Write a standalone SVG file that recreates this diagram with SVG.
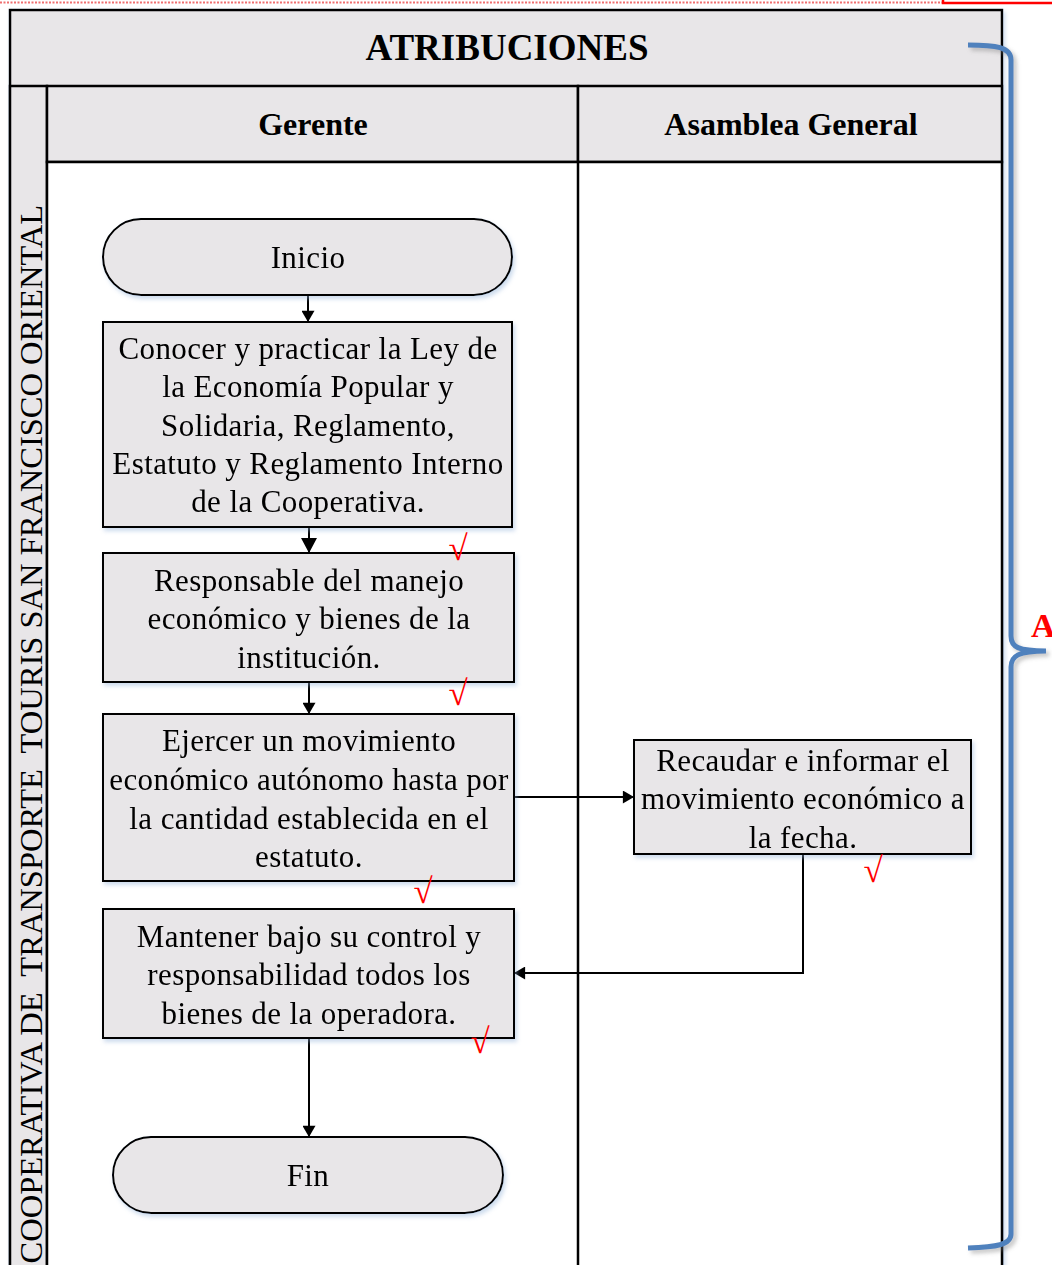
<svg xmlns="http://www.w3.org/2000/svg" width="1052" height="1265" viewBox="0 0 1052 1265">
  <style>
    .lane { fill: #e8e6e8; stroke: #000; stroke-width: 2.5; }
    .box { fill: #e8e6e8; stroke: #000; stroke-width: 2; }
    .t { font-family: "Liberation Serif", "Times New Roman", serif; font-size: 31px; letter-spacing: 0.4px; fill: #000; text-anchor: middle; }
    .h { font-family: "Liberation Serif", "Times New Roman", serif; font-weight: bold; fill: #000; text-anchor: middle; }
    .chk { font-family: "Liberation Serif", "DejaVu Serif", serif; font-size: 35px; fill: #ff0000; text-anchor: middle; }
    .conn { fill: none; stroke: #000; stroke-width: 2; }
  </style>
  <defs>
    <filter id="soft" x="-10%" y="-10%" width="125%" height="130%">
      <feDropShadow dx="2" dy="3" stdDeviation="2" flood-color="#8fb0d8" flood-opacity="0.45"/>
    </filter>
    <filter id="braceShadow" x="-20%" y="-5%" width="150%" height="110%">
      <feDropShadow dx="3" dy="3" stdDeviation="2" flood-color="#7a7a7a" flood-opacity="0.45"/>
    </filter>
    <marker id="arrow" viewBox="0 0 12 14" refX="12" refY="7" markerWidth="12" markerHeight="13" markerUnits="userSpaceOnUse" orient="auto">
      <path d="M0,0 L12,7 L0,14 Z" fill="#000"/>
    </marker>
    <marker id="arrowBig" viewBox="0 0 15 16" refX="15" refY="8" markerWidth="15" markerHeight="16" markerUnits="userSpaceOnUse" orient="auto">
      <path d="M0,0 L15,8 L0,16 Z" fill="#000"/>
    </marker>
  </defs>

  <rect width="1052" height="1265" fill="#ffffff"/>

  <!-- page edge marks at the top -->
  <line x1="0" y1="2.5" x2="943" y2="2.5" stroke="#f07070" stroke-width="2" stroke-dasharray="2,1.5"/>
  <path d="M943,0 L943,3 L1052,3" fill="none" stroke="#ff0000" stroke-width="2.5"/>

  <!-- pool frame and lanes -->
  <g id="pool" filter="url(#soft)">
    <rect class="lane" x="10" y="10" width="992" height="1270"/>
    <rect class="lane" x="10" y="86" width="37" height="1194"/>
    <rect class="lane" x="47" y="86" width="531" height="76"/>
    <rect class="lane" x="578" y="86" width="424" height="76"/>
    <rect x="47" y="162" width="955" height="1118" fill="#ffffff" stroke="#000" stroke-width="2.5"/>
    <line x1="578" y1="162" x2="578" y2="1280" stroke="#000" stroke-width="2.5"/>
  </g>
  <text class="h" x="507" y="60" font-size="37">ATRIBUCIONES</text>
  <text class="h" x="313" y="135" font-size="32">Gerente</text>
  <text class="h" x="791" y="135" font-size="32">Asamblea General</text>
  <text class="t" x="0" y="0" transform="translate(42,205) rotate(-90)" style="text-anchor:end;font-size:32.5px;letter-spacing:0;white-space:pre" xml:space="preserve">COOPERATIVA DE  TRANSPORTE  TOURIS SAN FRANCISCO ORIENTAL</text>

  <!-- connectors -->
  <g id="connectors">
    <line class="conn" x1="308" y1="295" x2="308" y2="322" marker-end="url(#arrow)"/>
    <line class="conn" x1="309" y1="527" x2="309" y2="553" marker-end="url(#arrowBig)"/>
    <line class="conn" x1="309" y1="682" x2="309" y2="714" marker-end="url(#arrow)"/>
    <line class="conn" x1="514" y1="797" x2="634" y2="797" marker-end="url(#arrow)"/>
    <polyline class="conn" points="803,854 803,973 514,973" marker-end="url(#arrow)"/>
    <line class="conn" x1="309" y1="1038" x2="309" y2="1137" marker-end="url(#arrow)"/>
  </g>

  <!-- nodes -->
  <g id="inicio" filter="url(#soft)">
    <rect class="box" x="103" y="219" width="409" height="76" rx="38"/>
    <text class="t" x="308" y="268">Inicio</text>
  </g>
  <g id="conocer" filter="url(#soft)">
    <rect class="box" x="103" y="322" width="409" height="205"/>
    <text class="t" x="308" y="359">Conocer y practicar la Ley de</text>
    <text class="t" x="308" y="397">la Economía Popular y</text>
    <text class="t" x="308" y="436">Solidaria, Reglamento,</text>
    <text class="t" x="308" y="474">Estatuto y Reglamento Interno</text>
    <text class="t" x="308" y="512">de la Cooperativa.</text>
  </g>
  <g id="responsable" filter="url(#soft)">
    <rect class="box" x="103" y="553" width="411" height="129"/>
    <text class="t" x="309" y="591">Responsable del manejo</text>
    <text class="t" x="309" y="629">económico y bienes de la</text>
    <text class="t" x="309" y="668">institución.</text>
  </g>
  <g id="ejercer" filter="url(#soft)">
    <rect class="box" x="103" y="714" width="411" height="167"/>
    <text class="t" x="309" y="751">Ejercer un movimiento</text>
    <text class="t" x="309" y="790">económico autónomo hasta por</text>
    <text class="t" x="309" y="829">la cantidad establecida en el</text>
    <text class="t" x="309" y="867">estatuto.</text>
  </g>
  <g id="recaudar" filter="url(#soft)">
    <rect class="box" x="634" y="740" width="337" height="114"/>
    <text class="t" x="803" y="771">Recaudar e informar el</text>
    <text class="t" x="803" y="809">movimiento económico a</text>
    <text class="t" x="803" y="848">la fecha.</text>
  </g>
  <g id="mantener" filter="url(#soft)">
    <rect class="box" x="103" y="909" width="411" height="129"/>
    <text class="t" x="309" y="947">Mantener bajo su control y</text>
    <text class="t" x="309" y="985">responsabilidad todos los</text>
    <text class="t" x="309" y="1024">bienes de la operadora.</text>
  </g>
  <g id="fin" filter="url(#soft)">
    <rect class="box" x="113" y="1137" width="390" height="76" rx="38"/>
    <text class="t" x="308" y="1186">Fin</text>
  </g>

  <!-- review ticks -->
  <g id="ticks">
    <text class="chk" x="458" y="560">√</text>
    <text class="chk" x="458" y="705">√</text>
    <text class="chk" x="423" y="903">√</text>
    <text class="chk" x="480" y="1053">√</text>
    <text class="chk" x="873" y="882">√</text>
  </g>

  <!-- right-hand brace and its label -->
  <g id="brace">
    <path d="M968,45 C996,45 1011,47 1011,60 L1011,636 C1011,647 1018,651 1046,651 M1046,651 C1018,651 1011,656 1011,667 L1011,1234 C1011,1245 996,1247 968,1248" fill="none" stroke="#4f81bd" stroke-width="5" filter="url(#braceShadow)"/>
    <text x="1031" y="637" style="font-family:'Liberation Serif','Times New Roman',serif;font-weight:bold;font-size:34px;fill:#ff0000">A</text>
  </g>
</svg>
